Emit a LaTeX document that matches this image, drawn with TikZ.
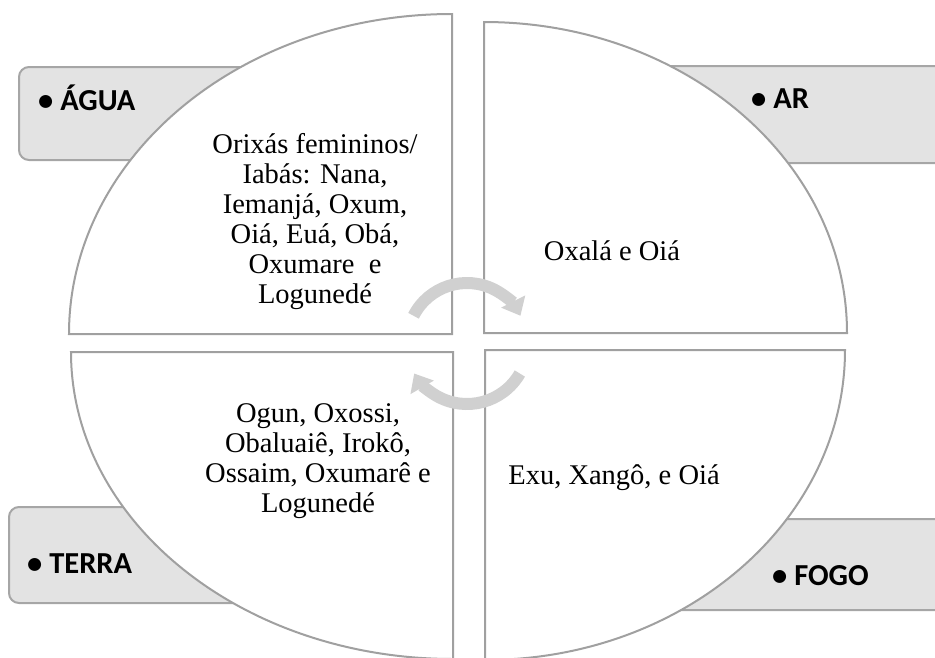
\documentclass[tikz,border=0pt]{standalone}
\usepackage{fontspec}
\setmainfont{Liberation Serif}
\newfontfamily\labelfont{Carlito}
\usetikzlibrary{arrows.meta}
\definecolor{qline}{RGB}{160,160,160}
\definecolor{boxfill}{RGB}{227,227,227}
\definecolor{boxline}{RGB}{166,166,166}
\definecolor{arrowc}{RGB}{208,208,208}
\begin{document}
\begin{tikzpicture}[x=1pt,y=1pt,
  elembox/.style={draw=boxline, fill=boxfill, line width=2pt, rounded corners=10pt},
  quarter/.style={draw=qline, fill=white, line width=2pt, line join=miter},
  elemlabel/.style={font=\labelfont\bfseries\fontsize{30.5}{35}\selectfont, anchor=base west, inner sep=0pt},
  body/.style={font=\fontsize{28.5}{30}\selectfont, align=center, text=black, inner sep=0pt},
  cyclearrow/.style={draw=arrowc, line width=12pt, -{Triangle[width=26pt,length=16pt]}}]
\useasboundingbox (0,0) rectangle (935,-657);
% element boxes
\path[elembox] (19,-67) rectangle (420,-160);
\path[elembox] (520,-66) rectangle (960,-163);
\path[elembox] (9,-507) rectangle (420,-603);
\path[elembox] (520,-519) rectangle (960,-610);
% quarters
\path[quarter] (452,-334) -- (69,-334) arc[start angle=180, end angle=90, x radius=383, y radius=320] -- cycle;
\path[quarter] (484,-333) -- (484,-22) arc[start angle=90, end angle=0, x radius=363, y radius=311] -- cycle;
\path[quarter] (485,-350) -- (845,-350) arc[start angle=0, end angle=-90, x radius=360, y radius=310] -- cycle;
\path[quarter] (453,-352) -- (453,-659) arc[start angle=270, end angle=180, x radius=382, y radius=307] -- cycle;
% labels
\node[elemlabel] (agua) at (38,-110) {• ÁGUA};
\node[elemlabel] (ar) at (751,-108) {• AR};
\node[elemlabel] (terra) at (27,-573) {• TERRA};
\node[elemlabel] (fogo) at (772,-585) {• FOGO};
% texts
\node[body] (aguatxt) at (315,-222) {Orixás femininos/\\Iabás: Nana,\\Iemanjá, Oxum,\\Oiá, Euá, Obá,\\Oxumare\ \ e\\Logunedé};
\node[body] (artxt) at (612,-251) {Oxalá e Oiá};
\node[body] (terratxt) at (318,-461) {Ogun, Oxossi,\\Obaluaiê, Irokô,\\Ossaim, Oxumarê e\\Logunedé};
\node[body] (fogotxt) at (614,-478) {Exu, Xangô, e Oiá};
% cycle arrows
\coordinate (cc) at (467,-343);
\draw[cyclearrow] ([shift={(153:60)}]cc) arc[start angle=153, end angle=27, radius=60];
\draw[cyclearrow] ([shift={(-30:61)}]cc) arc[start angle=-30, end angle=-150, radius=61];
\end{tikzpicture}
\end{document}
